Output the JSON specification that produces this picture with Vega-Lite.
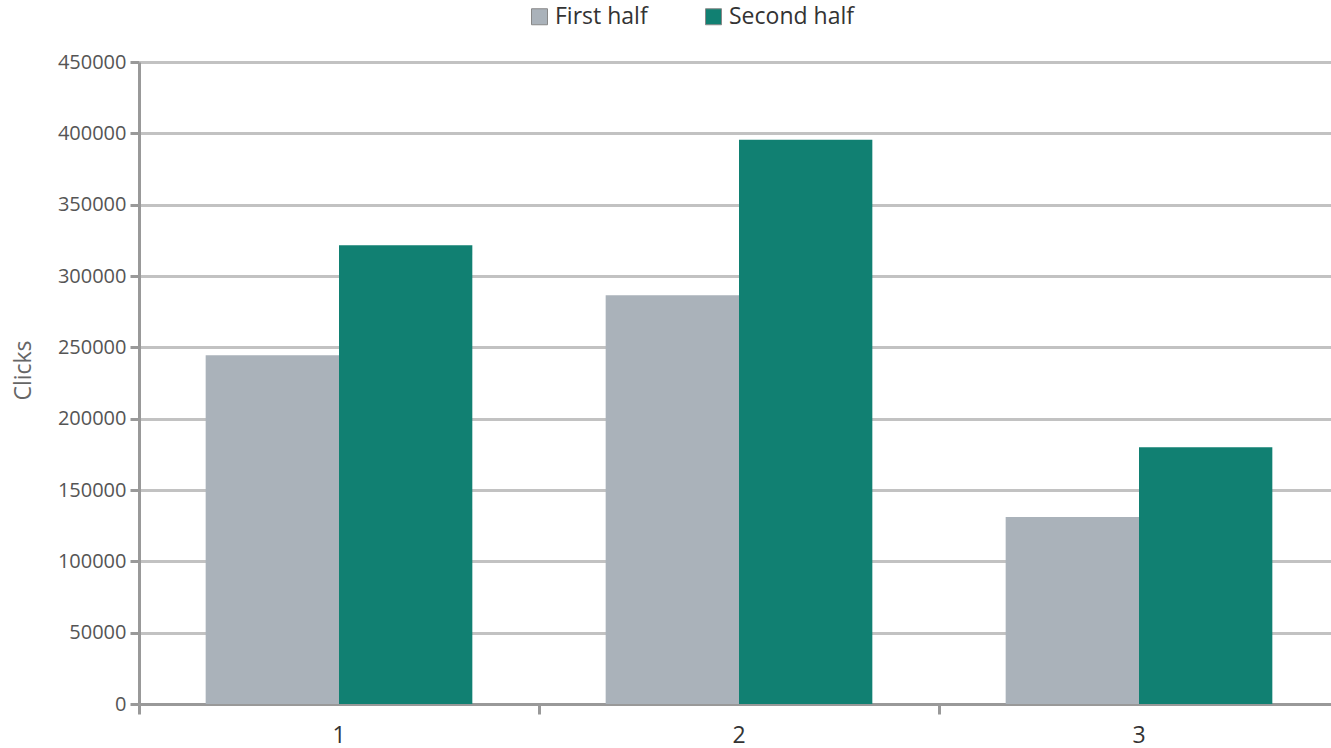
{
  "$schema": "https://vega.github.io/schema/vega-lite/v6.json",
  "autosize": {"type": "none"},
  "padding": {"left": 139, "top": 62, "right": 0, "bottom": 44},
  "width": 1200,
  "height": 642,
  "background": "white",
  "config": {
    "view": {"stroke": null},
    "font": "Open Sans"
  },
  "data": {
    "values": [
      {"group": "1", "period": "First half", "clicks": 244500},
      {"group": "1", "period": "Second half", "clicks": 321500},
      {"group": "2", "period": "First half", "clicks": 286500},
      {"group": "2", "period": "Second half", "clicks": 395500},
      {"group": "3", "period": "First half", "clicks": 131000},
      {"group": "3", "period": "Second half", "clicks": 180000}
    ]
  },
  "mark": {"type": "bar"},
  "encoding": {
    "x": {
      "field": "group",
      "type": "nominal",
      "scale": {"paddingInner": 0, "paddingOuter": 0},
      "axis": {
        "title": null,
        "labelAngle": 0,
        "labelFontSize": 23,
        "labelColor": "#333333",
        "labelPadding": 10,
        "bandPosition": 0,
        "tickSize": 10,
        "tickWidth": 3,
        "tickColor": "#999999",
        "domainColor": "#999999",
        "domainWidth": 3,
        "grid": false
      }
    },
    "xOffset": {
      "field": "period",
      "type": "nominal",
      "scale": {"paddingInner": 0, "paddingOuter": 0.5}
    },
    "y": {
      "field": "clicks",
      "type": "quantitative",
      "scale": {"domain": [0, 450000], "nice": false},
      "axis": {
        "title": "Clicks",
        "titleFontSize": 23,
        "titleFontWeight": "normal",
        "titleColor": "#666666",
        "titleAngle": 270,
        "titleAlign": "center",
        "titleBaseline": "middle",
        "titleX": -116,
        "titleY": 308,
        "values": [0, 50000, 100000, 150000, 200000, 250000, 300000, 350000, 400000, 450000],
        "format": "d",
        "labelFontSize": 20,
        "labelColor": "#555555",
        "labelPadding": 4,
        "tickSize": 9,
        "tickWidth": 3,
        "tickColor": "#999999",
        "domainColor": "#999999",
        "domainWidth": 3,
        "grid": true,
        "gridColor": "#c2c2c2",
        "gridWidth": 3
      }
    },
    "color": {
      "field": "period",
      "type": "nominal",
      "scale": {"domain": ["First half", "Second half"], "range": ["#aab2ba", "#118072"]},
      "legend": {
        "title": null,
        "orient": "none",
        "direction": "horizontal",
        "legendX": 389,
        "legendY": -57,
        "symbolType": "square",
        "symbolSize": 256,
        "symbolStrokeWidth": 1,
        "symbolStrokeColor": "#888888",
        "labelFontSize": 23,
        "labelColor": "#333333",
        "labelOffset": 4,
        "columnPadding": 54
      }
    }
  }
}
